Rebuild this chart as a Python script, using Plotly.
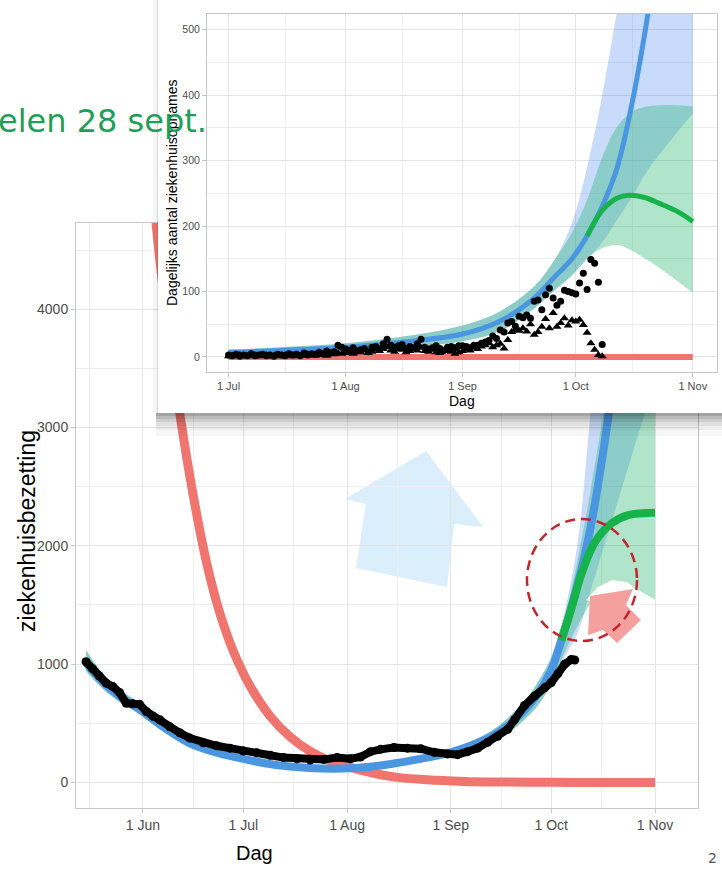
import pandas as pd
import plotly.graph_objects as go

W, H = 722, 870
YEAR = '2020-'
FONT = 'Liberation Sans, Arial, sans-serif'

# ---------- main chart: ziekenhuisbezetting ----------
main_tick_dates = ['06-01', '07-01', '08-01', '09-01', '10-01', '11-01']
main_tick_text = ['1 Jun', '1 Jul', '1 Aug', '1 Sep', '1 Oct', '1 Nov']
main_minor_dates = ['05-16', '06-16', '07-16', '08-16', '09-16', '10-16']

black_dates = ['05-15', '05-17', '05-19', '05-21', '05-23', '05-25', '05-27', '05-29', '05-31',
               '06-02', '06-04', '06-06', '06-09', '06-12', '06-15', '06-19', '06-23', '06-27',
               '07-01', '07-05', '07-09', '07-13', '07-17', '07-21', '07-25', '07-29', '08-02',
               '08-05', '08-08', '08-11', '08-15', '08-19', '08-23', '08-27', '08-31', '09-03',
               '09-06', '09-09', '09-12', '09-15', '09-18', '09-20', '09-23', '09-26', '09-29',
               '10-01', '10-03', '10-05', '10-07', '10-08']
black_vals = [1020, 960, 900, 840, 810, 760, 670, 665, 660,
              600, 560, 530, 470, 420, 375, 335, 310, 290,
              265, 250, 230, 210, 200, 190, 195, 210, 200,
              215, 260, 280, 295, 290, 285, 255, 240, 235,
              260, 290, 340, 390, 450, 530, 650, 730, 800,
              845, 920, 1000, 1040, 1035]

blue_dates = ['05-15', '05-20', '05-25', '05-31', '06-07', '06-15', '06-22', '06-30', '07-07',
              '07-15', '07-22', '07-31', '08-07', '08-15', '08-22', '09-01', '09-07', '09-13',
              '09-18', '09-23', '09-27', '10-01', '10-04', '10-07', '10-10', '10-12', '10-14',
              '10-16', '10-18', '10-21', '10-24', '10-27']
blue_vals = [1010, 850, 730, 620, 470, 330, 260, 205, 165,
             135, 120, 118, 130, 160, 195, 255, 310, 386,
             480, 610, 750, 950, 1200, 1480, 1800, 2050, 2350,
             2700, 3080, 3800, 4700, 5800]

green_dates = ['10-04', '10-07', '10-10', '10-14', '10-19', '10-24', '11-01']
green_vals = [1200, 1470, 1760, 2030, 2190, 2260, 2280]

red_dates = ['06-01', '06-05', '06-08', '06-12', '06-16', '06-20', '06-24', '06-28', '07-03',
             '07-09', '07-15', '07-21', '07-27', '08-05', '08-15', '08-25', '09-05', '09-15',
             '10-01', '10-15', '11-01']
red_vals = [6100, 4700, 3950, 3120, 2430, 1860, 1430, 1110, 815,
            560, 385, 262, 180, 105, 47, 22, 9, 4,
            1, 0, 0]

band_dates = ['05-15', '05-20', '05-25', '05-31', '06-07', '06-15', '06-22', '06-30', '07-07',
              '07-15', '07-22', '07-31', '08-07', '08-15', '08-22', '09-01', '09-07', '09-13',
              '09-18', '09-23', '09-27', '10-01', '10-05', '10-09', '10-12', '10-15', '10-18',
              '10-22', '10-26', '11-01']
blue_lo = [940, 790, 680, 575, 435, 300, 235, 185, 145,
           115, 100, 98, 108, 135, 165, 220, 270, 335,
           415, 530, 650, 830, 1060, 1270, 1550, 1830, 2110,
           2480, 2850, 3390]
blue_up = [1120, 920, 790, 670, 510, 360, 290, 230, 185,
           155, 140, 140, 152, 185, 225, 290, 350, 435,
           545, 690, 850, 1070, 1450, 2050, 2900, 3900, 5000,
           6500, 8000, 10500]
green_lo = [940, 790, 680, 575, 435, 300, 235, 185, 145,
            115, 100, 98, 108, 135, 165, 220, 270, 335,
            415, 530, 650, 830, 1100, 1330, 1480, 1600, 1670,
            1690, 1640, 1545]
green_up = [1120, 920, 790, 670, 510, 360, 290, 230, 185,
            155, 140, 140, 152, 185, 225, 290, 350, 435,
            545, 690, 850, 1050, 1400, 1900, 2350, 2850, 3350,
            3900, 4300, 4700]

# ---------- inset: dagelijkse ziekenhuisopnames ----------
inset_tick_dates = ['07-01', '08-01', '09-01', '10-01', '11-01']
inset_tick_text = ['1 Jul', '1 Aug', '1 Sep', '1 Oct', '1 Nov']
inset_minor_dates = ['07-16', '08-16', '09-16', '10-16']

in_band_dates = ['07-01', '07-15', '08-01', '08-15', '09-01', '09-11', '09-20', '09-25',
                 '09-30', '10-04', '10-08', '10-12', '10-16', '10-20', '10-26', '11-01']
in_blue_lo = [3, 5, 9, 14, 24, 40, 74, 100, 125, 150, 175, 210, 245, 285, 330, 372]
in_blue_up = [11, 15, 21, 30, 48, 70, 108, 145, 205, 290, 400, 530, 650, 800, 1000, 1200]
in_green_lo = [3, 5, 9, 14, 24, 40, 74, 100, 125, 150, 166, 171, 162, 148, 124, 98]
in_green_up = [11, 15, 21, 30, 48, 70, 108, 145, 190, 240, 305, 352, 375, 383, 385, 383]

in_blue_dates = ['07-01', '07-15', '08-01', '08-15', '09-01', '09-11', '09-20', '09-25',
                 '09-30', '10-04', '10-08', '10-12', '10-16', '10-20', '10-23']
in_blue_vals = [7, 10, 15, 22, 35, 55, 90, 120, 150, 185, 230, 290, 390, 520, 640]

in_green_dates = ['10-04', '10-08', '10-12', '10-15', '10-19', '10-23', '10-28', '11-01']
in_green_vals = [185, 224, 243, 247, 244, 235, 222, 207]

in_red_dates = ['07-01', '11-01']
in_red_vals = [0, 0]

# daily observations 1 Jul - 8 Oct
circle_vals = [3, 2, 4, 1, 3, 2, 5, 2, 3, 4, 2, 3, 1, 4, 3, 2, 5, 3, 4, 2, 6, 3, 5, 4, 7, 5, 9, 6, 8, 18, 15,
               12, 10, 14, 9, 11, 13, 8, 15, 16, 12, 20, 27, 18, 15, 17, 19, 13, 16, 14, 20, 27, 15, 12, 14, 17, 13, 10, 15, 16, 14, 17,
               17, 16, 14, 18, 18, 21, 23, 25, 32, 28, 41, 38, 52, 54, 47, 62, 60, 64, 59, 85, 87, 72, 95, 105, 90, 79, 85, 102, 100, 98,
               96, 113, 128, 103, 149, 143, 114, 19]
triangle_vals = [1, 2, 1, 3, 2, 1, 2, 3, 1, 2, 3, 1, 2, 2, 1, 3, 2, 1, 3, 2, 2, 4, 3, 2, 4, 3, 2, 5, 4, 6, 5,
                 6, 8, 5, 9, 7, 10, 6, 8, 11, 9, 12, 15, 10, 8, 12, 11, 7, 9, 13, 10, 14, 9, 8, 11, 7, 6, 10, 9, 8, 5, 7,
                 9, 12, 10, 14, 12, 16, 18, 21, 15, 18, 20, 13, 26, 38, 41, 40, 44, 39, 50, 34, 38, 46, 58, 44, 67, 46, 52, 59, 48, 56,
                 54, 57, 49, 37, 21, 11, 3, 1]
obs_dates = pd.date_range('2020-07-01', periods=len(circle_vals), freq='D')

BLUE_LINE = '#4a96e0'
GREEN_LINE = '#16b34a'
RED_LINE = '#f0756f'
BLUE_BAND = 'rgba(40,110,235,0.25)'
GREEN_BAND = 'rgba(30,180,110,0.35)'


def d(lst):
    return [YEAR + s for s in lst]


def px(x):
    return x / W


def py(y):
    return 1 - y / H


def band(fig, dates, lo, up, color, xa, ya):
    fig.add_trace(go.Scatter(x=d(dates), y=lo, mode='lines', line=dict(width=0, shape='spline'),
                             hoverinfo='skip', xaxis=xa, yaxis=ya))
    fig.add_trace(go.Scatter(x=d(dates), y=up, mode='lines', line=dict(width=0, shape='spline'),
                             fill='tonexty', fillcolor=color, hoverinfo='skip', xaxis=xa, yaxis=ya))


def line(fig, dates, vals, color, width, xa, ya):
    fig.add_trace(go.Scatter(x=d(dates), y=vals, mode='lines',
                             line=dict(color=color, width=width, shape='spline'),
                             xaxis=xa, yaxis=ya))


fig = go.Figure()

# main chart traces
band(fig, band_dates, blue_lo, blue_up, BLUE_BAND, 'x', 'y')
band(fig, band_dates, green_lo, green_up, GREEN_BAND, 'x', 'y')
line(fig, red_dates, red_vals, RED_LINE, 9, 'x', 'y')
line(fig, blue_dates, blue_vals, BLUE_LINE, 8, 'x', 'y')
line(fig, green_dates, green_vals, GREEN_LINE, 8, 'x', 'y')
fig.add_trace(go.Scatter(x=d(black_dates), y=black_vals, mode='lines+markers',
                         line=dict(color='black', width=8), marker=dict(color='black', size=9),
                         xaxis='x', yaxis='y'))

# white card behind the inset (empty subplot, its background hides the main chart)
fig.add_trace(go.Scatter(x=[], y=[], xaxis='x2', yaxis='y2', hoverinfo='skip'))

# inset traces
band(fig, in_band_dates, in_blue_lo, in_blue_up, BLUE_BAND, 'x3', 'y3')
band(fig, in_band_dates, in_green_lo, in_green_up, GREEN_BAND, 'x3', 'y3')
line(fig, in_red_dates, in_red_vals, RED_LINE, 6, 'x3', 'y3')
line(fig, in_blue_dates, in_blue_vals, BLUE_LINE, 5, 'x3', 'y3')
line(fig, in_green_dates, in_green_vals, GREEN_LINE, 5, 'x3', 'y3')
fig.add_trace(go.Scatter(x=obs_dates, y=circle_vals, mode='markers',
                         marker=dict(color='black', size=7, symbol='circle'),
                         xaxis='x3', yaxis='y3'))
fig.add_trace(go.Scatter(x=obs_dates, y=triangle_vals, mode='markers',
                         marker=dict(color='black', size=8, symbol='triangle-up'),
                         xaxis='x3', yaxis='y3'))

grid = '#e4e4e4'
minor_grid = '#efefef'
frame = '#c6c6c6'


def date_axis(domain, rng, ticks, text, minor, anchor, size):
    return dict(domain=domain, type='date', range=rng, anchor=anchor,
                tickvals=d(ticks), ticktext=text,
                showgrid=True, gridcolor=grid, gridwidth=1, zeroline=False,
                minor=dict(tickvals=d(minor), showgrid=True, gridcolor=minor_grid, gridwidth=1),
                showline=True, mirror=True, linecolor=frame, linewidth=1,
                ticks='outside', ticklen=4, tickcolor=frame,
                tickfont=dict(family=FONT, size=size, color='#4d4d4d'))


def num_axis(domain, rng, ticks, minor, anchor, size):
    return dict(domain=domain, range=rng, anchor=anchor, tickvals=ticks,
                showgrid=True, gridcolor=grid, gridwidth=1, zeroline=False,
                minor=dict(tickvals=minor, showgrid=True, gridcolor=minor_grid, gridwidth=1),
                showline=True, mirror=True, linecolor=frame, linewidth=1,
                ticks='outside', ticklen=4, tickcolor=frame,
                tickfont=dict(family=FONT, size=size, color='#4d4d4d'))


fig.update_layout(
    width=W, height=H,
    margin=dict(l=0, r=0, t=0, b=0),
    paper_bgcolor='white', plot_bgcolor='white',
    showlegend=False,
    xaxis=date_axis([px(76), px(698)], ['2020-05-12', '2020-11-13 20:00'],
                    main_tick_dates, main_tick_text, main_minor_dates, 'y', 14),
    yaxis=num_axis([py(808), py(223)], [-216, 4729], [0, 1000, 2000, 3000, 4000],
                   [500, 1500, 2500, 3500, 4500], 'x', 14),
    xaxis2=dict(domain=[px(158), 1], range=[0, 1], visible=False, anchor='y2'),
    yaxis2=dict(domain=[py(413), 1], range=[0, 1], visible=False, anchor='x2'),
    xaxis3=date_axis([px(207), px(717)], ['2020-06-25 07:00', '2020-11-07 10:00'],
                     inset_tick_dates, inset_tick_text, inset_minor_dates, 'y3', 11),
    yaxis3=num_axis([py(372), py(14)], [-23, 524], [0, 100, 200, 300, 400, 500],
                    [50, 150, 250, 350, 450], 'x3', 10.5),
)

shapes = []
# blue arrow (under the grid)
blue_arrow = [(426, 451), (483, 527), (454, 524), (447, 587), (356, 568), (366, 504), (345, 499)]
shapes.append(dict(type='path', xref='paper', yref='paper', layer='below',
                   path='M ' + ' L '.join(f'{px(a)},{py(b)}' for a, b in blue_arrow) + ' Z',
                   fillcolor='#daeefb', line=dict(width=0)))
# card shadow
for y0, y1, a in [(413, 416, 0.36), (416, 419, 0.27), (419, 422, 0.19), (422, 426, 0.12),
                  (426, 430, 0.07), (430, 436, 0.03)]:
    shapes.append(dict(type='rect', xref='paper', yref='paper', layer='above',
                       x0=px(156), x1=1, y0=py(y1), y1=py(y0),
                       fillcolor=f'rgba(0,0,0,{a})', line=dict(width=0)))
shapes.append(dict(type='rect', xref='paper', yref='paper', layer='above',
                   x0=px(153), x1=px(158), y0=py(413), y1=1,
                   fillcolor='rgba(0,0,0,0.04)', line=dict(width=0)))
shapes.append(dict(type='line', xref='paper', yref='paper', layer='above',
                   x0=px(157.5), x1=px(157.5), y0=py(413), y1=1,
                   line=dict(color='rgba(0,0,0,0.12)', width=1)))
# white halo + pink arrow + dashed circle
halo = [(586, 600), (598, 587), (612, 580), (627, 582), (638, 591), (642, 604), (628, 606), (590, 601)]
shapes.append(dict(type='path', xref='paper', yref='paper', layer='above',
                   path='M ' + ' L '.join(f'{px(a)},{py(b)}' for a, b in halo) + ' Z',
                   fillcolor='white', line=dict(width=0)))
pink_arrow = [(590, 596), (633, 589), (626, 605), (641, 620), (617, 643), (603, 630), (588, 635)]
shapes.append(dict(type='path', xref='paper', yref='paper', layer='above',
                   path='M ' + ' L '.join(f'{px(a)},{py(b)}' for a, b in pink_arrow) + ' Z',
                   fillcolor='#f4a09e', line=dict(width=0)))
shapes.append(dict(type='circle', xref='paper', yref='paper', layer='above',
                   x0=px(527), x1=px(637), y0=py(641), y1=py(519),
                   line=dict(color='#c1272d', width=2.5, dash='10px,6px')))
fig.update_layout(shapes=shapes)

annotations = [
    dict(text='ziekenhuisbezetting', x=px(27), y=py(531), textangle=-90,
         font=dict(family=FONT, size=23, color='black')),
    dict(text='Dag', x=px(254), y=py(853), font=dict(family=FONT, size=20, color='black')),
    dict(text='Dagelijks aantal ziekenhuisopnames', x=px(172), y=py(193), textangle=-90,
         font=dict(family=FONT, size=14, color='black')),
    dict(text='Dag', x=px(462), y=py(401), font=dict(family=FONT, size=14, color='black')),
    dict(text='elen 28 sept.', x=px(-4), y=py(121), xanchor='left',
         font=dict(family='DejaVu Sans', size=32, color='#1e9f58')),
    dict(text='2', x=px(712), y=py(858), font=dict(family='DejaVu Sans', size=14, color='#555555')),
]
for a in annotations:
    a.update(xref='paper', yref='paper', showarrow=False)
    a.setdefault('xanchor', 'center')
    a.setdefault('yanchor', 'middle')
fig.update_layout(annotations=annotations)

# the page has the default 8px body margin; drop it so the figure fills the window
fig.write_html('out.html', config={'displayModeBar': False},
               post_script="document.body.style.margin = '0px';")
